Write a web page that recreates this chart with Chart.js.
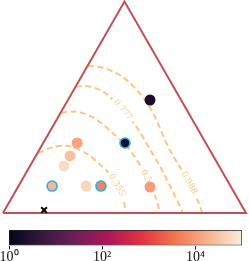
<!DOCTYPE html>
<html>
<head>
<meta charset="utf-8">
<script src="https://cdn.jsdelivr.net/npm/chart.js@4.4.0/dist/chart.umd.min.js"></script>
<style>
  html, body { margin: 0; padding: 0; background: #fff; }
  #wrap { position: relative; width: 249px; height: 261px; }
  #tri { position: absolute; left: 0; top: 0; }
  #cbar { position: absolute; left: 0; top: 220px; }
</style>
</head>
<body>
<div id="wrap">
  <canvas id="tri" width="249" height="220"></canvas>
  <canvas id="cbar" width="249" height="41"></canvas>
</div>
<script>
// triangle corners, in units of the base length
var cornerX = [0, 0.5, 1, 0];
var cornerY = [0, 0.87, 0, 0];

// samples (x, y inside the triangle) and their value
var pointX = [0.605, 0.502, 0.305, 0.276, 0.251, 0.202, 0.342, 0.403, 0.605];
var pointY = [0.465, 0.288, 0.288, 0.235, 0.193, 0.111, 0.111, 0.111, 0.107];
var pointValue = [2.2, 1.8, 12900, 27500, 63000, 21400, 51300, 5400, 11200];
var pointRinged = [false, true, false, false, false, true, false, true, false];
var crossX = [0.169];
var crossY = [0.012];

// contour lines
var levels = ['0.355', '0.566', '0.777', '0.988'];
var contourX = [
  [0.144, 0.193, 0.235, 0.276, 0.317, 0.358, 0.387, 0.420, 0.449, 0.473, 0.490, 0.500, 0.502],
  [0.239, 0.276, 0.317, 0.358, 0.387, 0.428, 0.469, 0.502, 0.531, 0.556, 0.580, 0.605, 0.626, 0.638, 0.646],
  [0.300, 0.337, 0.379, 0.420, 0.453, 0.494, 0.535, 0.568, 0.597, 0.626, 0.654, 0.679, 0.704, 0.724, 0.741],
  [0.350, 0.399, 0.449, 0.498, 0.543, 0.584, 0.617, 0.642, 0.667, 0.691, 0.720, 0.749, 0.774, 0.794, 0.811, 0.819]
];
var contourY = [
  [0.247, 0.267, 0.276, 0.274, 0.259, 0.235, 0.210, 0.181, 0.148, 0.107, 0.066, 0.033, 0],
  [0.412, 0.418, 0.414, 0.399, 0.383, 0.350, 0.313, 0.284, 0.247, 0.210, 0.169, 0.119, 0.070, 0.033, 0],
  [0.519, 0.523, 0.514, 0.494, 0.465, 0.424, 0.374, 0.325, 0.276, 0.226, 0.177, 0.128, 0.078, 0.037, 0],
  [0.605, 0.601, 0.584, 0.556, 0.514, 0.465, 0.412, 0.358, 0.300, 0.251, 0.202, 0.156, 0.111, 0.066, 0.029, 0]
];
var labelAt = [8.8, 10.75, 5, 11.7];

// colorbar
var cbarMin = 1;
var cbarMax = 100000;
var cbarTicks = [1, 100, 10000];
var cbarTickLabels = ['10\u2070', '10\u00b2', '10\u2074'];

var rocket = ['#03051a', '#35193e', '#701f57', '#ad1759', '#e13342', '#f37651', '#f6b48f', '#faebdd'];
var edgeColor = '#c44e52';
var contourColor = '#fdc583';
var ringColor = '#2ab0e4';

function hexRgb(h) {
  return [parseInt(h.substr(1, 2), 16), parseInt(h.substr(3, 2), 16), parseInt(h.substr(5, 2), 16)];
}
function rocketAt(t) {
  t = Math.max(0, Math.min(1, t));
  var n = rocket.length - 1;
  var i = Math.min(Math.floor(t * n), n - 1);
  var f = t * n - i;
  var a = hexRgb(rocket[i]), b = hexRgb(rocket[i + 1]);
  var c = a.map(function(v, k) { return Math.round(v + (b[k] - v) * f); });
  return 'rgb(' + c.join(',') + ')';
}
function colorOf(v) {
  return rocketAt(Math.log10(v / cbarMin) / Math.log10(cbarMax / cbarMin));
}

var datasets = [];
datasets.push({
  data: pointX.map(function(x, i) { return {x: x, y: pointY[i]}; }),
  backgroundColor: pointValue.map(colorOf),
  borderColor: pointRinged.map(function(r) { return r ? ringColor : 'rgba(0,0,0,0)'; }),
  borderWidth: pointRinged.map(function(r) { return r ? 1.6 : 0; }),
  pointRadius: pointRinged.map(function(r) { return r ? 5 : 5.5; }),
  clip: false
});
datasets.push({
  data: crossX.map(function(x, i) { return {x: x, y: crossY[i]}; }),
  pointStyle: 'crossRot',
  pointRadius: 4,
  borderColor: '#000',
  borderWidth: 2,
  clip: false
});
datasets.push({
  data: cornerX.map(function(x, i) { return {x: x, y: cornerY[i]}; }),
  showLine: true,
  borderColor: edgeColor,
  borderWidth: 2,
  pointRadius: 0,
  clip: false
});
for (var k = 0; k < levels.length; k++) {
  datasets.push({
    level: k,
    data: contourX[k].map(function(x, i) { return {x: x, y: contourY[this][i]}; }, k),
    showLine: true,
    borderColor: contourColor,
    borderWidth: 2,
    borderDash: [6, 3.5],
    tension: 0.35,
    pointRadius: 0,
    clip: false
  });
}

var contourLabels = {
  id: 'contourLabels',
  afterDatasetDraw: function(chart, args) {
    var ds = chart.data.datasets[args.index];
    if (ds.level === undefined) return;
    var k = ds.level;
    var pts = args.meta.data;
    var i = Math.min(Math.floor(labelAt[k]), pts.length - 2);
    var f = labelAt[k] - i;
    var a = pts[i], b = pts[i + 1];
    var x = a.x + (b.x - a.x) * f;
    var y = a.y + (b.y - a.y) * f;
    var ang = Math.atan2(b.y - a.y, b.x - a.x);
    var ctx = chart.ctx;
    ctx.save();
    ctx.translate(x, y);
    ctx.rotate(ang);
    ctx.font = '8.5px "DejaVu Serif"';
    var w = ctx.measureText(levels[k]).width;
    ctx.fillStyle = '#fff';
    ctx.fillRect(-w / 2 - 3, -4.5, w + 6, 9);
    ctx.fillStyle = contourColor;
    ctx.textAlign = 'center';
    ctx.textBaseline = 'middle';
    ctx.fillText(levels[k], 0, 0);
    ctx.restore();
  }
};

new Chart(document.getElementById('tri'), {
  type: 'scatter',
  data: { datasets: datasets },
  options: {
    responsive: false,
    animation: false,
    events: [],
    layout: { autoPadding: false, padding: { left: 3, right: 3, top: 1, bottom: 7 } },
    plugins: { legend: { display: false }, tooltip: { enabled: false } },
    scales: {
      x: { type: 'linear', min: 0, max: 1, display: false },
      y: { type: 'linear', min: 0, max: 0.8724, display: false }
    }
  },
  plugins: [contourLabels]
});

function cbarFill(ctx) {
  var area = ctx.chart.chartArea;
  if (!area) return rocket[0];
  var g = ctx.chart.ctx.createLinearGradient(area.left, 0, area.right, 0);
  rocket.forEach(function(c, i) { g.addColorStop(i / (rocket.length - 1), c); });
  return g;
}

new Chart(document.getElementById('cbar'), {
  type: 'bar',
  data: {
    labels: [''],
    datasets: [{
      data: [[cbarMin, cbarMax]],
      backgroundColor: cbarFill,
      borderColor: '#222',
      borderWidth: 1,
      borderSkipped: false,
      barPercentage: 1,
      categoryPercentage: 1
    }]
  },
  options: {
    indexAxis: 'y',
    responsive: false,
    animation: false,
    events: [],
    layout: { autoPadding: false, padding: { left: 9, right: 7, top: 10, bottom: 0 } },
    plugins: { legend: { display: false }, tooltip: { enabled: false } },
    scales: {
      y: { display: false },
      x: {
        type: 'logarithmic',
        min: cbarMin,
        max: cbarMax,
        border: { display: false },
        grid: { display: true, drawOnChartArea: false, tickLength: 4, color: '#222' },
        afterBuildTicks: function(s) { s.ticks = cbarTicks.map(function(v) { return {value: v}; }); },
        afterFit: function(s) { s.paddingLeft = 0; s.paddingRight = 0; },
        ticks: {
          autoSkip: false,
          maxRotation: 0,
          padding: 1,
          color: '#111',
          font: { family: '"Liberation Serif", serif', size: 14, lineHeight: 1 },
          callback: function(v) { return cbarTickLabels[cbarTicks.indexOf(v)]; }
        }
      }
    }
  }
});
</script>
</body>
</html>
